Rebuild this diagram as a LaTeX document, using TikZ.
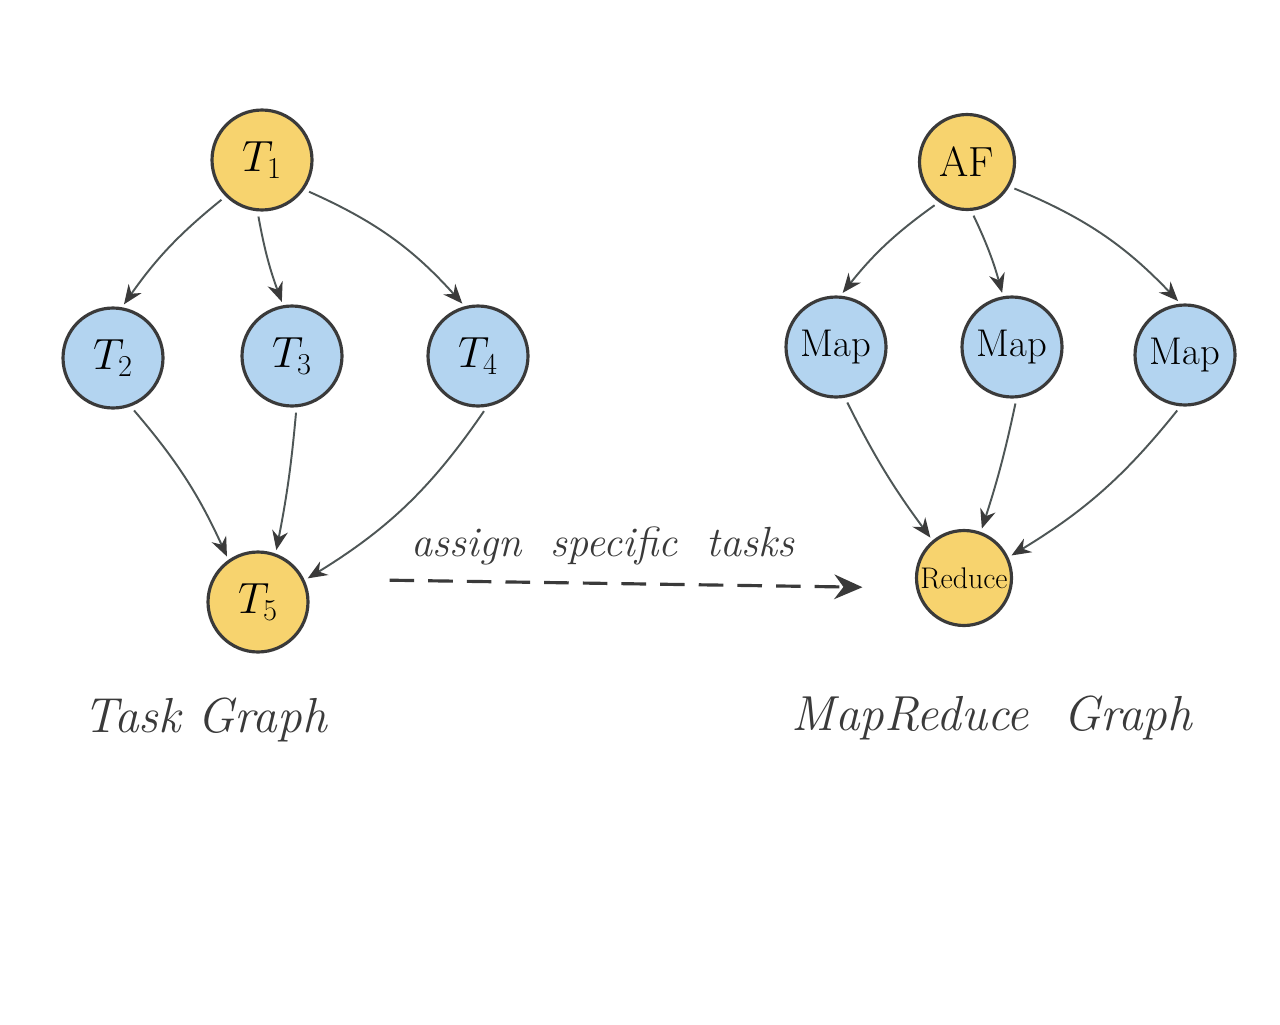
\documentclass[tikz,border=0pt]{standalone}
\usetikzlibrary{arrows.meta}
\definecolor{yfill}{HTML}{F7D36E}
\definecolor{bfill}{HTML}{B3D4F0}
\definecolor{outl}{HTML}{3A3A3A}
\definecolor{edgec}{HTML}{4E5656}
\begin{document}
\begin{tikzpicture}[x=0.02cm,y=-0.02cm,
  task/.style={circle,draw=outl,line width=1.8pt,minimum size=2cm,inner sep=0pt,font=\fontsize{24}{28}\selectfont},
  ynode/.style={task,fill=yfill},
  bnode/.style={task,fill=bfill},
  edge/.style={draw=edgec,line width=1.1pt,-{Stealth[length=11pt,width=9pt,color=outl,fill=outl]},shorten <=3pt,shorten >=2pt},
  lbl/.style={font=\fontsize{28}{32}\selectfont\itshape,text=outl}]
\useasboundingbox[fill=white] (0,0) rectangle (1280,1024);
% Task graph
\node[ynode] (t1) at (262,160) {$T_1$};
\node[bnode] (t2) at (113,358) {$T_2$};
\node[bnode] (t3) at (292,356) {$T_3$};
\node[bnode] (t4) at (478,356) {$T_4$};
\node[ynode] (t5) at (258,602) {$T_5$};
% MapReduce graph
\node[ynode,minimum size=1.9cm] (af) at (967,162) {AF};
\node[bnode,font=\fontsize{22}{26}\selectfont] (m1) at (836,347) {Map};
\node[bnode,font=\fontsize{22}{26}\selectfont] (m2) at (1012,347) {Map};
\node[bnode,font=\fontsize{22}{26}\selectfont] (m3) at (1185,355) {Map};
\node[ynode,minimum size=1.9cm,font=\fontsize{17}{20}\selectfont] (rd) at (964,578) {Reduce};
% edges task graph
\draw[edge] (t1.225) to[bend right=8] (t2.80);
\draw[edge] (t1.265) to[bend right=5] (t3.100);
\draw[edge] (t1.325) to[bend left=12] (t4.105);
\draw[edge] (t2.290) to[bend left=8] (t5.125);
\draw[edge] (t3.275) to[bend left=3] (t5.70);
\draw[edge] (t4.280) to[bend left=12] (t5.25);
% edges mapreduce
\draw[edge] (af.235) to[bend right=8] (m1.85);
\draw[edge] (af.275) to[bend left=5] (m2.100);
\draw[edge] (af.330) to[bend left=12] (m3.95);
\draw[edge] (m1.280) to[bend right=5] (rd.130);
\draw[edge] (m2.275) to[bend left=3] (rd.70);
\draw[edge] (m3.265) to[bend left=10] (rd.25);
% assignment
\draw[draw=outl,line width=1.8pt,dashed,dash pattern=on 14pt off 8pt,-{Stealth[length=16pt,width=14pt]},shorten <=1.6cm,shorten >=1.05cm] (t5.east |- 0,579) -- (rd.west |- 0,588);
\node[lbl,font=\fontsize{24}{28}\selectfont\itshape] (asg) at (603,546) {assign\ \ specific\ \ tasks};
% labels
\node[lbl] (tg) at (205,720) {Task Graph};
\node[lbl] (mg) at (992,718) {MapReduce\ \ Graph};
\end{tikzpicture}
\end{document}
